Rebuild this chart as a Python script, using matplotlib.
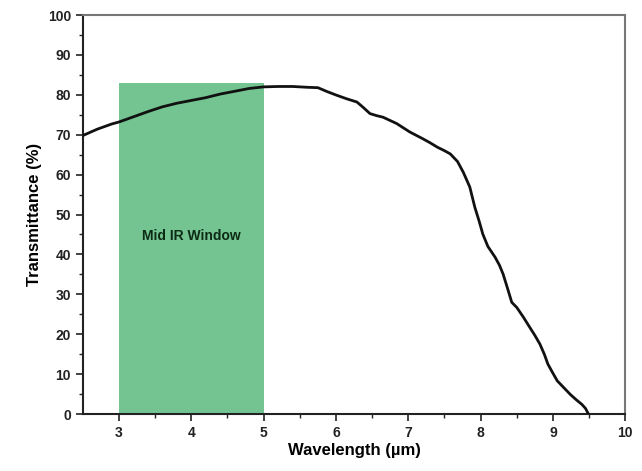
import matplotlib
matplotlib.use("Agg")
import matplotlib.pyplot as plt
import numpy as np

plt.rcParams['font.family'] = ['Liberation Sans', 'DejaVu Sans']

wavelength = [2.5, 2.7, 2.9, 3.0, 3.2, 3.4, 3.6, 3.8, 4.0, 4.2, 4.4, 4.6, 4.8, 5.0,
              5.2, 5.4, 5.6, 5.75, 5.88, 6.01, 6.15, 6.29, 6.38, 6.47, 6.56, 6.65, 6.84,
              7.02, 7.2, 7.3, 7.4, 7.5, 7.58, 7.68, 7.76, 7.85, 7.92, 7.98, 8.03, 8.1,
              8.2, 8.26, 8.31, 8.37, 8.43, 8.5, 8.59, 8.68, 8.75, 8.82, 8.88, 8.93,
              9.0, 9.06, 9.15, 9.24, 9.32, 9.4, 9.45, 9.49]
transmittance = [69.8, 71.4, 72.7, 73.2, 74.5, 75.8, 77.0, 77.9, 78.6, 79.3, 80.2, 80.9, 81.6, 82.0,
                 82.1, 82.1, 81.9, 81.8, 80.8, 79.9, 79.0, 78.2, 76.8, 75.3, 74.8, 74.4, 72.8,
                 70.7, 69.0, 68.0, 66.9, 66.0, 65.2, 63.3, 60.6, 56.9, 51.8, 48.3, 45.1, 42.0,
                 39.3, 37.3, 35.1, 31.6, 28.0, 26.7, 24.3, 21.7, 19.7, 17.5, 15.0, 12.5,
                 10.2, 8.3, 6.6, 4.9, 3.6, 2.4, 1.4, 0.0]

window_start, window_end, window_top = 3.0, 5.0, 83.0
window_label = "Mid IR Window"
xticks = [3, 4, 5, 6, 7, 8, 9, 10]
yticks = [0, 10, 20, 30, 40, 50, 60, 70, 80, 90, 100]

fig = plt.figure(figsize=(6.42, 4.71), dpi=100)
ax = fig.add_axes([0.129, 0.121, 0.845, 0.847])

ax.bar([(window_start + window_end) / 2], [window_top], width=window_end - window_start,
       color='#74c492', edgecolor='none', zorder=1)
ax.plot(wavelength, transmittance, color='#111111', lw=2.0, zorder=3,
        solid_joinstyle='round')
ax.text(4.0, 44.5, window_label, ha='center', va='center', fontsize=10,
        fontweight='bold', color='#0d2a15', zorder=4)

ax.set_xlim(2.5, 10)
ax.set_ylim(0, 100)
ax.set_xticks(xticks)
ax.set_yticks(yticks)
ax.set_xticks(np.arange(3.5, 10, 1.0), minor=True)
ax.set_yticks(np.arange(5, 100, 10), minor=True)
ax.tick_params(axis='both', which='major', direction='out', length=5, width=1.2,
               labelsize=10, colors='#222222')
ax.tick_params(axis='both', which='minor', direction='out', length=3, width=1.0, colors='#222222')
for lbl in ax.get_xticklabels() + ax.get_yticklabels():
    lbl.set_fontweight('bold')

ax.set_xlabel("Wavelength (\u00b5m)", fontsize=12, fontweight='bold', labelpad=2)
ax.set_ylabel("Transmittance (%)", fontsize=12, fontweight='bold', labelpad=4)

ax.spines['left'].set_color('#222222')
ax.spines['bottom'].set_color('#222222')
ax.spines['left'].set_linewidth(1.5)
ax.spines['bottom'].set_linewidth(1.5)
ax.spines['top'].set_color('#777777')
ax.spines['right'].set_color('#777777')
ax.spines['top'].set_linewidth(1.5)
ax.spines['right'].set_linewidth(1.5)

fig.savefig("out.png", dpi=100)
